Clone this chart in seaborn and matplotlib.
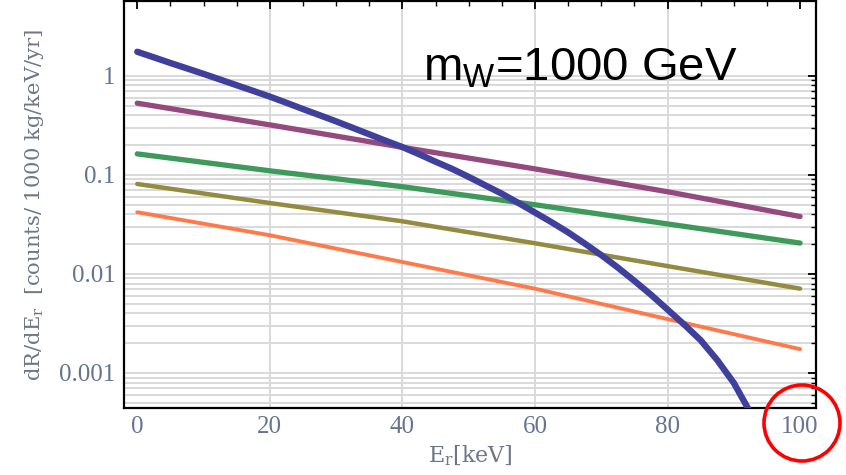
import numpy as np
import pandas as pd
import matplotlib
matplotlib.use("Agg")
import matplotlib.pyplot as plt
import seaborn as sns
from matplotlib.patches import Ellipse
from matplotlib.ticker import FixedLocator, NullFormatter

# Recoil energy grid (keV) and differential rates (counts / 1000 kg / keV / yr)
energy_fine = [0, 2.5, 5, 7.5, 10, 12.5, 15, 17.5, 20, 22.5, 25, 27.5, 30, 32.5, 35, 37.5,
               40, 42.5, 45, 47.5, 50, 52.5, 55, 57.5, 60, 62.5, 65, 67.5, 70, 72.5, 75,
               77.5, 80, 82.5, 85, 87.5, 90, 92.5]
rate_blue = [1.750, 1.538, 1.349, 1.189, 1.047, 0.918, 0.804, 0.705, 0.617, 0.535, 0.462,
             0.401, 0.347, 0.299, 0.257, 0.221, 0.191, 0.162, 0.136, 0.115, 0.0955, 0.0785,
             0.0646, 0.0521, 0.0417, 0.0333, 0.0263, 0.0203, 0.0155, 0.0116, 0.00851,
             0.00617, 0.00437, 0.00309, 0.00214, 0.00135, 0.000794, 0.000398]

energy = [0, 20, 40, 60, 80, 100]
rate_purple = [0.53, 0.32, 0.19, 0.115, 0.0676, 0.038]
rate_green = [0.163, 0.110, 0.076, 0.050, 0.032, 0.0205]
rate_olive = [0.081, 0.052, 0.034, 0.0204, 0.012, 0.0071]
rate_orange = [0.042, 0.0246, 0.0132, 0.0071, 0.0035, 0.00174]

x_ticks = [0, 20, 40, 60, 80, 100]
y_ticks = [1, 0.1, 0.01, 0.001]
y_tick_labels = ["1", "0.1", "0.01", "0.001"]

sns.set_style("white")
plt.rcParams["font.family"] = ["Liberation Serif", "DejaVu Serif"]

W, H = 846, 475
fig = plt.figure(figsize=(W / 100, H / 100), dpi=100)
ax = fig.add_axes([124 / W, 1 - 408 / H, (816 - 124) / W, (408 - 1) / H])

# horizontal grid on every log step up to 1, vertical grid every 20 keV
grid_c = "#d9d9d9"
for dec in [1e-4, 1e-3, 1e-2, 1e-1]:
    for k in range(1, 10):
        ax.axhline(k * dec, color=grid_c, lw=1.4, zorder=0)
ax.axhline(1.0, color=grid_c, lw=1.4, zorder=0)
for xv in [20, 40, 60, 80]:
    ax.axvline(xv, color=grid_c, lw=1.4, zorder=0)

series = [
    (energy, rate_purple, "#944a7e", 3.8),
    (energy, rate_green, "#3d9a5a", 3.8),
    (energy, rate_olive, "#948a40", 3.2),
    (energy, rate_orange, "#ff7a4a", 2.8),
    (energy_fine, rate_blue, "#3f3f9c", 4.6),
]
for xs, ys, col, lw in series:
    df = pd.DataFrame({"E": xs, "rate": ys})
    sns.lineplot(data=df, x="E", y="rate", color=col, lw=lw, ax=ax, zorder=3)

ax.set_yscale("log")
ax.set_xlim(-2, 102.4)
ax.set_ylim(4.43e-4, 5.7)

ax.xaxis.set_major_locator(FixedLocator(x_ticks))
ax.xaxis.set_minor_locator(FixedLocator(np.arange(0, 101, 5)))
ax.yaxis.set_major_locator(FixedLocator(y_ticks))
minor_y = [k * d for d in [1e-4, 1e-3, 1e-2, 1e-1] for k in range(2, 10)]
ax.yaxis.set_minor_locator(FixedLocator(minor_y))
ax.yaxis.set_minor_formatter(NullFormatter())
ax.set_yticklabels(y_tick_labels)

lab_c = "#66748f"
ax.tick_params(which="both", direction="in", top=True, right=True, color="black",
               labelcolor=lab_c, labelsize=18)
ax.tick_params(which="major", length=6, width=1.3, pad=6)
ax.tick_params(which="minor", length=3.5, width=1.0)
for s in ax.spines.values():
    s.set_color("black")
    s.set_linewidth(1.6)

label_font = ["DejaVu Serif", "Liberation Serif"]
ax.set_xlabel(r"E$_\mathregular{r}$[keV]", fontsize=16, color="#6f7688", labelpad=4,
              family=label_font)
ax.set_ylabel(r"dR/dE$_\mathregular{r}$  [counts/ 1000 kg/keV/yr]", fontsize=15.2,
              color="#6f7688", labelpad=10, family=label_font)

fig.text(423 / W, 1 - 80 / H, r"m$_\mathregular{W}$=1000 GeV", fontsize=34,
         family=["Liberation Sans", "DejaVu Sans"], color="black",
         ha="left", va="baseline")

circle = Ellipse((802 / W, 1 - 423 / H), 76 / W, 76 / H, transform=fig.transFigure,
                 fill=False, ec="red", lw=2.6)
fig.add_artist(circle)

fig.savefig("out.png", dpi=100)
